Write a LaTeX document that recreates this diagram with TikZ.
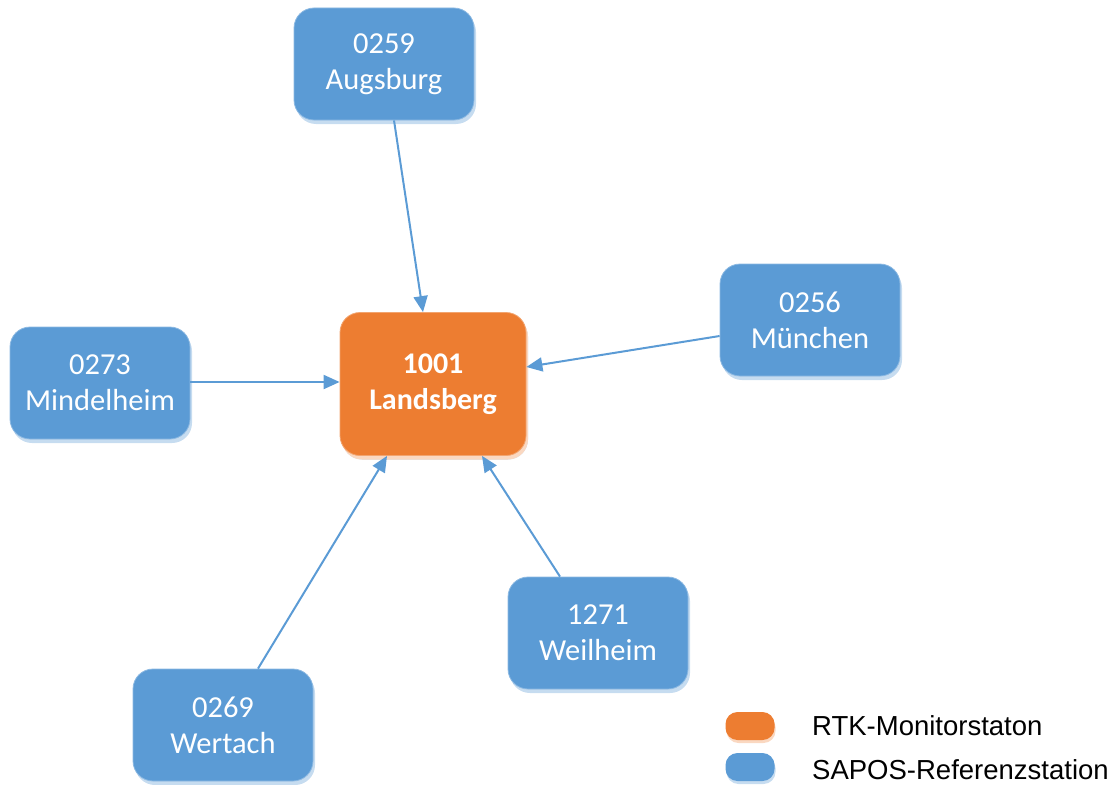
\documentclass[tikz,border=0pt]{standalone}
\usepackage{fontspec}
\setmainfont{Carlito}
\newfontfamily\legendfont{Liberation Sans}
\usetikzlibrary{arrows.meta,shadows}
\definecolor{sblue}{HTML}{5B9BD5}
\definecolor{sorange}{HTML}{ED7D31}
\begin{document}
\begin{tikzpicture}[x=1pt,y=-1pt,
  station/.style={rectangle, rounded corners=20pt, fill=sblue, draw=sblue!70!white, line width=0.8pt,
    minimum width=180pt, minimum height=112pt, inner sep=0pt, align=center, text=white,
    font=\fontsize{30.5}{36}\selectfont,
    drop shadow={shadow xshift=2pt, shadow yshift=-4pt, fill=sblue!35!white, opacity=1}},
  monitor/.style={station, fill=sorange, draw=sorange!70!white, minimum width=186pt, minimum height=143pt,
    font=\bfseries\fontsize{30}{36}\selectfont,
    drop shadow={shadow xshift=2pt, shadow yshift=-4pt, fill=sorange!30!white, opacity=1}},
  link/.style={draw=sblue, line width=2pt, -{Triangle[length=16pt,width=14pt]}},
  pill/.style={rectangle, rounded corners=12pt, minimum width=49pt, minimum height=28pt, inner sep=0pt},
  legtext/.style={anchor=west, inner sep=0pt, font=\legendfont\fontsize{27.5}{30}\selectfont}
]
\useasboundingbox (0,0) rectangle (1118,784);
\node[monitor] (lands) at (433,384) {1001\\Landsberg};
\node[station] (aug) at (384,64) {0259\\Augsburg};
\node[station] (mue) at (810,320) {0256\\München};
\node[station] (mind) at (100,383) {0273\\Mindelheim};
\node[station] (weil) at (598,633) {1271\\Weilheim};
\node[station] (wert) at (223,725) {0269\\Wertach};

\draw[link] ([xshift=10pt]aug.south) -- ([xshift=-10pt]lands.north);
\draw[link] ([yshift=-16pt]mue.west) -- ([yshift=17pt]lands.east);
\draw[link] ([yshift=1pt]mind.east) -- ([yshift=2pt]lands.west);
\draw[link] ([xshift=-38pt]weil.north) -- ([xshift=49pt]lands.south);
\draw[link] ([xshift=35pt]wert.north) -- ([xshift=-46pt]lands.south);

\node[pill, fill=sorange, drop shadow={shadow xshift=1pt, shadow yshift=-3pt, fill=sorange!30!white, opacity=1}] (lego) at (750,726) {};
\node[pill, fill=sblue, drop shadow={shadow xshift=1pt, shadow yshift=-3pt, fill=sblue!35!white, opacity=1}] (legb) at (750,767) {};
\node[legtext] (lto) at (812,726) {RTK-Monitorstaton};
\node[legtext] (ltb) at (812,770) {SAPOS-Referenzstation};
\end{tikzpicture}
\end{document}
